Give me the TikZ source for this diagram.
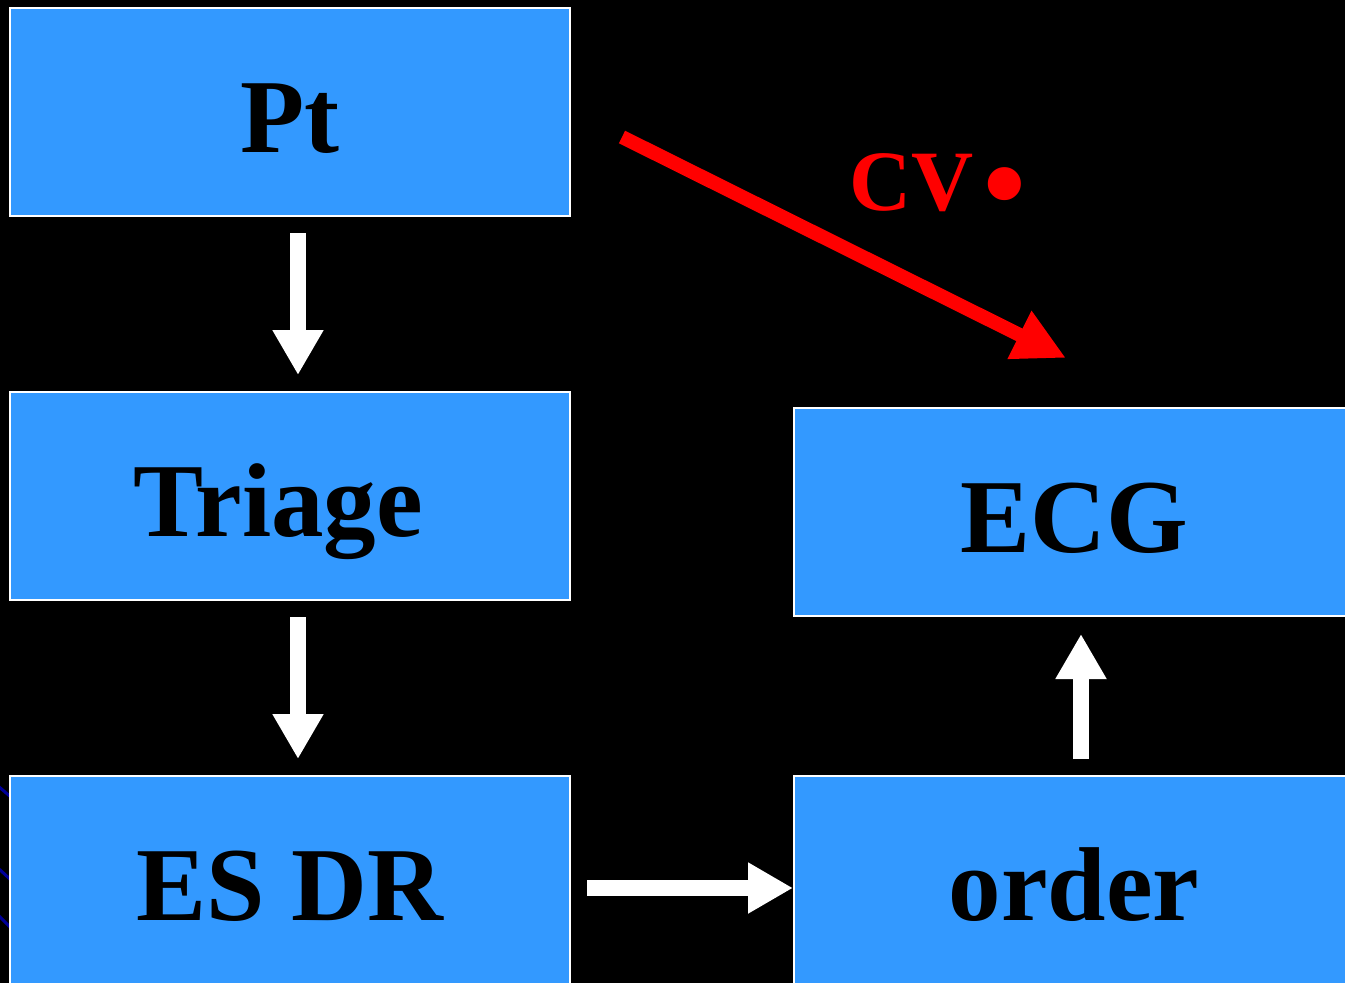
\documentclass[tikz,border=0pt]{standalone}
\usepackage{fontspec}
\setmainfont{Liberation Serif}
\usetikzlibrary{arrows.meta}
\definecolor{boxblue}{HTML}{3399FF}
\definecolor{arcblue}{HTML}{000099}

\begin{document}
\begin{tikzpicture}[x=1pt,y=-1pt,
  box/.style={draw=white,line width=2pt,fill=boxblue,minimum width=560pt,
              minimum height=208pt,inner sep=0pt,text height=80pt,text depth=0pt,
              font=\fontsize{105}{110}\selectfont\bfseries},
  warr/.style={-{Triangle[length=45pt,width=48pt]},white,line width=16pt},
  rarr/.style={-{Triangle[length=52pt,width=50pt]},red,line width=14pt}]
  \useasboundingbox (0,0) rectangle (1345,983);
  \clip (0,0) rectangle (1345,983);
  \fill[black] (0,0) rectangle (1345,983);
  % bits of the background swirl at the left edge
  \draw[arcblue,line width=3pt] (-2,786) -- (12,798);
  \draw[arcblue,line width=3pt] (-2,868) -- (12,881);
  \draw[arcblue,line width=3pt] (-2,915) -- (12,929);

  \node[box] (pt)     at (290,112)  {Pt};
  \node[box] (triage) at (290,496)  {Triage\hspace*{24pt}};
  \node[box] (esdr)   at (290,880)  {ES DR};
  \node[box] (ecg)    at (1074,512) {ECG};
  \node[box] (order)  at (1074,880) {order};

  \draw[warr,shorten <=16pt,shorten >=16pt] ([xshift=8pt]pt.south) -- ([xshift=8pt]triage.north);
  \draw[warr,shorten <=16pt,shorten >=16pt] ([xshift=8pt]triage.south) -- ([xshift=8pt]esdr.north);
  \draw[warr,shorten <=16pt] ([yshift=-8pt]esdr.east) -- ([yshift=-8pt]order.west);
  \draw[warr,shorten <=16pt,shorten >=17pt] ([xshift=7pt]order.north) -- ([xshift=7pt]ecg.south);
  \draw[rarr] ([xshift=51pt,yshift=-25pt]pt.east) -- ([xshift=-8pt,yshift=49pt]ecg.north);
  \node[anchor=base west,red,inner sep=0pt,font=\fontsize{86}{92}\selectfont\bfseries] (cv) at (849,210)
    {CV\hspace{10pt}\raisebox{-14pt}{\fontsize{122}{122}\selectfont •}};
\end{tikzpicture}
\end{document}
